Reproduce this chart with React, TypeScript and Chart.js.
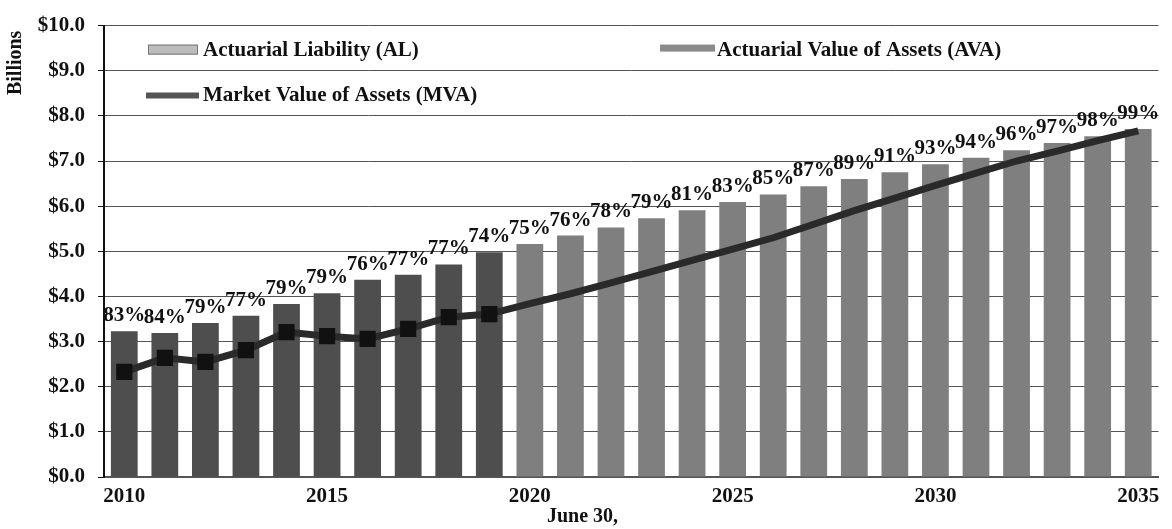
import React, { useEffect, useRef } from "react";
import { Chart, registerables } from "chart.js";

Chart.register(...registerables);

// ---- Data ----
const years = [
  "2010", "2011", "2012", "2013", "2014", "2015", "2016", "2017", "2018", "2019",
  "2020", "2021", "2022", "2023", "2024", "2025", "2026", "2027", "2028", "2029",
  "2030", "2031", "2032", "2033", "2034", "2035",
];
const actuarialLiability = [
  3.23, 3.19, 3.41, 3.57, 3.83, 4.07, 4.37, 4.48, 4.71, 4.98,
  5.16, 5.35, 5.53, 5.73, 5.91, 6.09, 6.26, 6.44, 6.6, 6.75,
  6.93, 7.07, 7.24, 7.4, 7.55, 7.71,
];
const marketValueOfAssets = [
  2.33, 2.64, 2.55, 2.81, 3.21, 3.12, 3.06, 3.28, 3.54, 3.61,
  3.84, 4.06, 4.3, 4.55, 4.8, 5.05, 5.3, 5.6, 5.9, 6.18,
  6.46, 6.73, 7.0, 7.22, 7.45, 7.67,
];
const fundedRatio = [
  83, 84, 79, 77, 79, 79, 76, 77, 77, 74,
  75, 76, 78, 79, 81, 83, 85, 87, 89, 91,
  93, 94, 96, 97, 98, 99,
];
const firstProjectedYear = 2020;
const labeledYearStep = 5;
const legendLabels = [
  "Actuarial Liability (AL)",
  "Actuarial Value of Assets (AVA)",
  "Market Value of Assets (MVA)",
];
const yAxisTitle = "Billions";
const xAxisTitle = "June 30,";

// ---- Styles ----
const SERIF = "'Liberation Serif', 'Times New Roman', serif";
const HIST_BAR = "#4e4e4e";
const PROJ_BAR = "#7f7f7f";
const LINE_COLOR = "#2a2a2a";

const barColors = years.map((y) => (Number(y) < firstProjectedYear ? HIST_BAR : PROJ_BAR));
const pointRadii = years.map((y) => (Number(y) < firstProjectedYear ? 6.5 : 0));

const ratioLabelsPlugin = {
  id: "ratioLabels",
  afterDatasetsDraw(chart: any) {
    const meta = chart.getDatasetMeta(0);
    const ctx = chart.ctx;
    ctx.save();
    ctx.font = `bold 21px ${SERIF}`;
    ctx.fillStyle = "#111";
    ctx.textAlign = "center";
    ctx.textBaseline = "alphabetic";
    meta.data.forEach((bar: any, i: number) => {
      ctx.fillText(`${fundedRatio[i]}%`, bar.x, bar.y - 10);
    });
    ctx.restore();
  },
};

const insideLegendPlugin = {
  id: "insideLegend",
  afterDraw(chart: any) {
    const ctx = chart.ctx;
    const area = chart.chartArea;
    const l = area.left;
    const t = area.top;
    ctx.save();
    ctx.font = `bold 21px ${SERIF}`;
    ctx.fillStyle = "#111";
    ctx.textBaseline = "middle";
    ctx.textAlign = "left";

    // AL swatch
    ctx.fillStyle = "#bdbdbd";
    ctx.fillRect(l + 44, t + 19, 50, 10);
    ctx.strokeStyle = "#777";
    ctx.lineWidth = 1;
    ctx.strokeRect(l + 44.5, t + 19.5, 49, 9);
    ctx.fillStyle = "#111";
    ctx.fillText(legendLabels[0], l + 99, t + 25);

    // AVA swatch
    ctx.fillStyle = "#8a8a8a";
    ctx.fillRect(l + 556, t + 19, 55, 7);
    ctx.fillStyle = "#111";
    ctx.fillText(legendLabels[1], l + 613, t + 25);

    // MVA swatch
    ctx.strokeStyle = "#555";
    ctx.lineWidth = 6;
    ctx.beginPath();
    ctx.moveTo(l + 42, t + 70);
    ctx.lineTo(l + 95, t + 70);
    ctx.stroke();
    ctx.fillStyle = "#111";
    ctx.fillText(legendLabels[2], l + 99, t + 70);
    ctx.restore();
  },
};

export default function App() {
  const canvasRef = useRef<HTMLCanvasElement | null>(null);

  useEffect(() => {
    document.body.style.margin = "0";
    const canvas = canvasRef.current;
    if (!canvas) return;
    const chart = new Chart(canvas, {
      type: "bar",
      data: {
        labels: years,
        datasets: [
          {
            type: "bar",
            label: legendLabels[0],
            data: actuarialLiability,
            backgroundColor: barColors,
            borderWidth: 0,
            barPercentage: 0.66,
            categoryPercentage: 1,
            order: 2,
          },
          {
            type: "line",
            label: legendLabels[2],
            data: marketValueOfAssets,
            borderColor: LINE_COLOR,
            borderWidth: 7,
            pointRadius: pointRadii,
            pointHoverRadius: pointRadii,
            pointStyle: "rect",
            pointBackgroundColor: "#111",
            pointBorderColor: "#111",
            tension: 0,
            order: 1,
          } as any,
        ],
      },
      options: {
        responsive: true,
        maintainAspectRatio: false,
        animation: false,
        layout: { padding: { top: 19, right: 7, left: 0, bottom: 0 } },
        plugins: {
          legend: { display: false },
          tooltip: { enabled: false },
          title: {
            display: true,
            text: xAxisTitle,
            position: "bottom",
            color: "#111",
            font: { family: SERIF, size: 20, weight: "bold" },
            padding: 0,
          },
        },
        scales: {
          x: {
            type: "category",
            offset: true,
            grid: { display: false, drawTicks: false },
            border: { display: true, color: "#555", width: 2 },
            ticks: {
              autoSkip: false,
              maxRotation: 0,
              padding: 7,
              color: "#111",
              font: { family: SERIF, size: 21, weight: "bold" },
              callback: function (this: any, value: any) {
                const lbl = this.getLabelForValue(value);
                return Number(lbl) % labeledYearStep === 0 ? lbl : "";
              },
            },
            afterFit(scale: any) {
              scale.height = 28;
            },
          },
          y: {
            min: 0,
            max: 10,
            grid: {
              color: "#555",
              lineWidth: 1,
              drawTicks: true,
              tickLength: 6,
              tickColor: "#111",
            },
            border: { display: true, color: "#111", width: 2 },
            ticks: {
              stepSize: 1,
              padding: 13,
              color: "#111",
              font: { family: SERIF, size: 21, weight: "bold" },
              callback: (v: any) => "$" + Number(v).toFixed(1),
            },
            title: {
              display: true,
              text: yAxisTitle + " ",
              align: "end",
              color: "#111",
              font: { family: SERIF, size: 20, weight: "bold" },
            },
            afterFit(scale: any) {
              scale.width = 104;
            },
          },
        },
      },
      plugins: [ratioLabelsPlugin, insideLegendPlugin],
    });
    return () => chart.destroy();
  }, []);

  return (
    <div style={{ width: "1172px", height: "529px", position: "relative" }}>
      <canvas ref={canvasRef} style={{ display: "block" }} />
    </div>
  );
}
